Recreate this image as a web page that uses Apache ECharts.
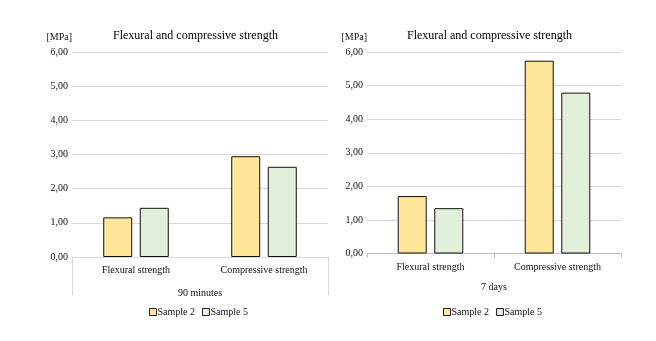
<!DOCTYPE html>
<html>
<head>
<meta charset="utf-8">
<script src="https://cdn.jsdelivr.net/npm/echarts@6/dist/echarts.min.js"></script>
<style>
  html, body { margin: 0; padding: 0; background: #fff; }
</style>
</head>
<body>
	<div id="main" style="width: 656px; height: 341px;"></div>
	<script type="text/javascript">
		// data
		var categories = ['Flexural strength', 'Compressive strength'];
		var seriesNames = ['Sample 2', 'Sample 5'];
		var min90Sample2 = [1.16, 2.95];
		var min90Sample5 = [1.44, 2.64];
		var day7Sample2 = [1.71, 5.74];
		var day7Sample5 = [1.35, 4.79];
		var titleText = 'Flexural and compressive strength';
		var unitName = '[MPa]';

		var FONT = '"Liberation Serif", "DejaVu Serif", serif';
		var colors = ['#FFE699', '#E2EFDA'];

		var myChart = echarts.init(document.getElementById('main'));

		function fmt(v) {
			return v.toFixed(2).replace('.', ',');
		}

		function yAxis(idx) {
			return {
				type: 'value', gridIndex: idx, min: 0, max: 6, interval: 1,
				name: unitName, nameLocation: 'end', nameGap: 10,
				nameTextStyle: { fontFamily: FONT, fontSize: 10, color: '#111', align: 'right' },
				axisLine: { show: false }, axisTick: { show: false },
				axisLabel: { fontFamily: FONT, fontSize: 10, color: '#111', margin: 4, formatter: fmt },
				splitLine: { lineStyle: { color: '#d9d9d9', width: 1 } }
			};
		}

		function bars(name, data, idx) {
			return {
				name: name, type: 'bar', xAxisIndex: idx, yAxisIndex: idx,
				data: data, barWidth: 29, barGap: '26%',
				itemStyle: { color: colors[seriesNames.indexOf(name)], borderColor: '#111', borderWidth: 1 }
			};
		}

		function legend(x) {
			return {
				data: seriesNames, left: x, top: 302, icon: 'rect', itemWidth: 7, itemHeight: 7, itemGap: 7,
				itemStyle: { borderColor: '#222', borderWidth: 1 },
				textStyle: { fontFamily: FONT, fontSize: 10, color: '#111', padding: [0, 0, 0, -4] }
			};
		}

		var option = {
			animation: false,
			title: [
				{ text: titleText, left: 108, top: 25, textStyle: { fontFamily: FONT, fontSize: 12, fontWeight: 'normal', color: '#000' } },
				{ text: titleText, left: 402, top: 25, textStyle: { fontFamily: FONT, fontSize: 12, fontWeight: 'normal', color: '#000' } }
			],
			legend: [legend(144), legend(438)],
			grid: [
				{ left: 72, top: 52, width: 256, height: 205 },
				{ left: 367, top: 52, width: 254, height: 201.5 }
			],
			xAxis: [
				{
					type: 'category', gridIndex: 0, data: categories,
					name: '90 minutes', nameLocation: 'middle', nameGap: 31,
					nameTextStyle: { fontFamily: FONT, fontSize: 10, color: '#111' },
					axisLine: { lineStyle: { color: '#d9d9d9' } },
					axisTick: { show: true, interval: 1, length: 38, lineStyle: { color: '#d9d9d9' } },
					axisLabel: { fontFamily: FONT, fontSize: 10, color: '#111', margin: 8 }
				},
				{
					type: 'category', gridIndex: 1, data: categories,
					name: '7 days', nameLocation: 'middle', nameGap: 29,
					nameTextStyle: { fontFamily: FONT, fontSize: 10, color: '#111' },
					axisLine: { lineStyle: { color: '#bfbfbf' } },
					axisTick: { show: true, length: 4, lineStyle: { color: '#bfbfbf' } },
					axisLabel: { fontFamily: FONT, fontSize: 10, color: '#111', margin: 9 }
				}
			],
			yAxis: [yAxis(0), yAxis(1)],
			series: [
				bars('Sample 2', min90Sample2, 0),
				bars('Sample 5', min90Sample5, 0),
				bars('Sample 2', day7Sample2, 1),
				bars('Sample 5', day7Sample5, 1)
			]
		};

		myChart.setOption(option);
	</script>
</body>
</html>
